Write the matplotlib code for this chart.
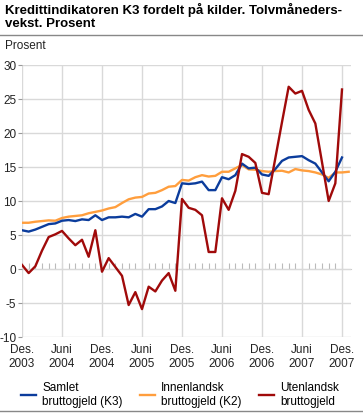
import matplotlib
matplotlib.use('Agg')
import matplotlib.pyplot as plt
from matplotlib.lines import Line2D

plt.rcParams['font.family'] = ['Liberation Sans', 'DejaVu Sans']
plt.rcParams['axes.unicode_minus'] = False

# Monthly twelve-month growth, Des. 2003 onwards
tick_labels = ['Des.\n2003', 'Juni\n2004', 'Des.\n2004', 'Juni\n2005', 'Des.\n2005',
               'Juni\n2006', 'Des.\n2006', 'Juni\n2007', 'Des.\n2007']

samlet = [5.7, 5.5, 5.8, 6.2, 6.6, 6.7, 7.1, 7.2, 7.05, 7.3, 7.2, 7.9,
          7.2, 7.6, 7.6, 7.7, 7.6, 8.1, 7.7, 8.8, 8.8, 9.2, 10.0, 9.7,
          12.6, 12.5, 12.6, 12.85, 11.6, 11.6, 13.5, 13.2, 13.8, 15.5, 14.8, 14.9,
          13.9, 13.7, 14.7, 15.9, 16.4, 16.5, 16.6, 16.0, 15.5, 14.2, 12.9, 14.3,
          16.4]

innenlandsk = [6.8, 6.8, 6.95, 7.05, 7.15, 7.1, 7.5, 7.7, 7.8, 7.9, 8.2, 8.4,
               8.6, 8.9, 9.1, 9.7, 10.25, 10.5, 10.6, 11.1, 11.2, 11.6, 12.1, 12.2,
               13.1, 13.0, 13.5, 13.8, 13.6, 13.7, 14.3, 14.3, 14.8, 15.3, 14.65, 14.6,
               14.4, 14.3, 14.4, 14.45, 14.2, 14.7, 14.5, 14.4, 14.2, 13.9, 13.4, 14.2,
               14.2, 14.3]

utenlandsk = [0.6, -0.6, 0.4, 2.7, 4.7, 5.1, 5.6, 4.5, 3.5, 4.3, 1.8, 5.7,
              -0.4, 1.6, 0.3, -1.0, -5.3, -3.4, -5.9, -2.6, -3.3, -1.7, -0.6, -3.2,
              10.3, 9.0, 8.7, 7.9, 2.5, 2.5, 10.4, 8.7, 11.5, 16.9, 16.5, 15.6,
              11.2, 11.0, 16.3, 21.6, 26.8, 25.8, 26.2, 23.4, 21.4, 15.7, 10.0, 12.6,
              26.4]

c_blue = '#0b3c9c'
c_orange = '#ff9e3d'
c_red = '#a00a0a'
grid_c = '#d9d9d9'

fig = plt.figure(figsize=(3.63, 4.13), dpi=100)
ax = fig.add_axes([22 / 363, 76 / 413, 329 / 363, 272 / 413])

ax.plot(range(len(samlet)), samlet, color=c_blue, lw=1.7, zorder=4)
ax.plot(range(len(innenlandsk)), innenlandsk, color=c_orange, lw=1.7, zorder=3)
ax.plot(range(len(utenlandsk)), utenlandsk, color=c_red, lw=1.7, zorder=5)

ax.set_xlim(0, 49.35)
ax.set_ylim(-10, 30)
ax.set_yticks(range(-10, 31, 5))
ax.set_xticks(range(0, 49, 6))
ax.set_xticklabels(tick_labels)
ax.grid(True, color=grid_c, lw=1)
ax.set_axisbelow(True)
for s in ax.spines.values():
    s.set_visible(False)
ax.tick_params(axis='y', length=3, color='#999999', labelsize=8.5, pad=1, labelcolor='#222222')
ax.tick_params(axis='x', length=0, labelsize=8.5, pad=5, labelcolor='#222222')

# month ticks along the zero line
zero = ax.secondary_xaxis(0.25)
zero.set_xticks(range(0, 49))
zero.set_xticklabels([])
zero.tick_params(direction='in', length=4, color='#bbbbbb', width=0.8)
zero.spines['bottom'].set_color('#cccccc')

fig.text(5 / 363, 1 - 3 / 413,
         'Kredittindikatoren K3 fordelt på kilder. Tolvmåneders-\nvekst. Prosent',
         fontsize=9.5, fontweight='bold', va='top', ha='left', linespacing=1.1)
fig.add_artist(Line2D([0, 1], [1 - 35 / 413] * 2, color='#888888', lw=1))
fig.text(5 / 363, 1 - 46 / 413, 'Prosent', fontsize=8.5, va='center', ha='left', color='#222222')
fig.add_artist(Line2D([0, 1], [2 / 413] * 2, color='#888888', lw=1))

handles = [Line2D([], [], color=c, lw=1.7) for c in (c_blue, c_orange, c_red)]
labels = ['Samlet\nbruttogjeld (K3)', 'Innenlandsk\nbruttogjeld (K2)', 'Utenlandsk\nbruttogjeld']
fig.legend(handles, labels, loc='lower left', bbox_to_anchor=(21 / 363, 5 / 413), ncol=3,
           frameon=False, fontsize=8.5, handlelength=1.3, handletextpad=0.5,
           columnspacing=1.45, borderaxespad=0, borderpad=0, labelspacing=0)

fig.savefig('out.png', dpi=100)
